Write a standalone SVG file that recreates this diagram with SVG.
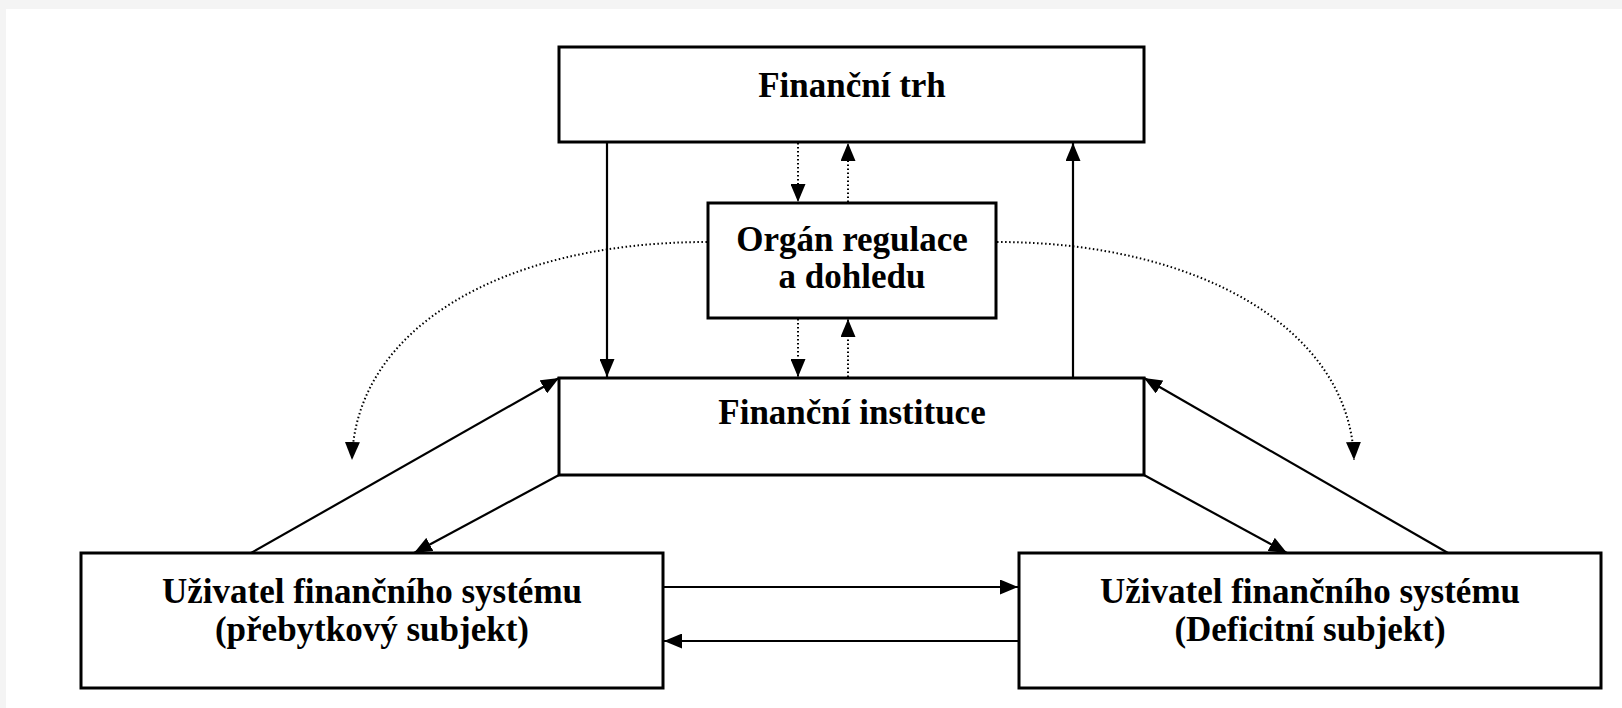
<svg xmlns="http://www.w3.org/2000/svg" width="1622" height="708" viewBox="0 0 1622 708">
<defs>
<style>
.box{fill:#fff;stroke:#000;stroke-width:3}
.lbl{font-family:"Liberation Serif","Times New Roman",serif;font-weight:bold;font-size:35px;text-anchor:middle;fill:#000}
.solid{fill:none;stroke:#000;stroke-width:2.2}
.dot{fill:none;stroke:#000;stroke-width:2;stroke-dasharray:1.5 2.5}
</style>
<marker id="ah" viewBox="0 0 18 15" markerWidth="18" markerHeight="15" refX="18" refY="7.5" orient="auto" markerUnits="userSpaceOnUse">
<path d="M0,0 L18,7.5 L0,15 z" fill="#000"/>
</marker>
</defs>
<rect x="0" y="0" width="1622" height="708" fill="#f4f4f4"/>
<rect x="6" y="9" width="1616" height="699" fill="#fff"/>
<g id="connectors">
<line class="solid" x1="607" y1="142" x2="607" y2="377" marker-end="url(#ah)"/>
<line class="solid" x1="1073" y1="377" x2="1073" y2="143" marker-end="url(#ah)"/>
<line class="dot" x1="798" y1="143" x2="798" y2="202" marker-end="url(#ah)"/>
<line class="dot" x1="848" y1="202" x2="848" y2="143" marker-end="url(#ah)"/>
<line class="dot" x1="798" y1="319" x2="798" y2="377" marker-end="url(#ah)"/>
<line class="dot" x1="848" y1="377" x2="848" y2="319" marker-end="url(#ah)"/>
<path class="dot" d="M707,242 C500,242 355,330 352,460" marker-end="url(#ah)"/>
<path class="dot" d="M997,242 C1200,242 1350,330 1354,460" marker-end="url(#ah)"/>
<line class="solid" x1="251" y1="553" x2="559" y2="378" marker-end="url(#ah)"/>
<line class="solid" x1="559" y1="475" x2="414" y2="553" marker-end="url(#ah)"/>
<line class="solid" x1="1144" y1="475" x2="1287" y2="553" marker-end="url(#ah)"/>
<line class="solid" x1="1448" y1="553" x2="1144" y2="378" marker-end="url(#ah)"/>
<line class="solid" x1="663" y1="587" x2="1018" y2="587" marker-end="url(#ah)"/>
<line class="solid" x1="1018" y1="641" x2="664" y2="641" marker-end="url(#ah)"/>
</g>
<g id="financni-trh">
<rect class="box" x="559" y="47" width="585" height="95"/>
<text class="lbl" x="852" y="97">Finanční trh</text>
</g>
<g id="organ-regulace">
<rect class="box" x="708" y="203" width="288" height="115"/>
<text class="lbl" x="852" y="251">Orgán regulace</text>
<text class="lbl" x="852" y="288">a dohledu</text>
</g>
<g id="financni-instituce">
<rect class="box" x="559" y="378" width="585" height="97"/>
<text class="lbl" x="852" y="424">Finanční instituce</text>
</g>
<g id="uzivatel-prebytkovy">
<rect class="box" x="81" y="553" width="582" height="135"/>
<text class="lbl" x="372" y="603">Uživatel finančního systému</text>
<text class="lbl" x="372" y="641">(přebytkový subjekt)</text>
</g>
<g id="uzivatel-deficitni">
<rect class="box" x="1019" y="553" width="582" height="135"/>
<text class="lbl" x="1310" y="603">Uživatel finančního systému</text>
<text class="lbl" x="1310" y="641">(Deficitní subjekt)</text>
</g>
</svg>
